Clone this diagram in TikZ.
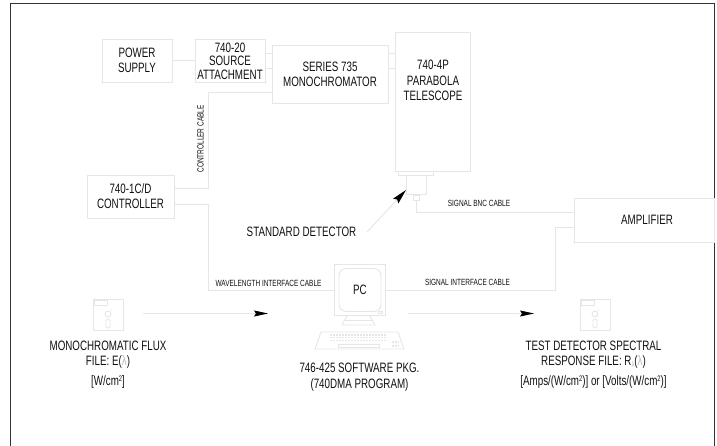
\documentclass[tikz,border=0pt]{standalone}
\usepackage{fontspec}
\setmainfont[FakeStretch=0.72]{Liberation Sans}
\usetikzlibrary{arrows.meta}
\definecolor{ln}{HTML}{E6E6E6}
\definecolor{tx}{HTML}{111111}
\tikzset{
 every node/.style={text=tx,inner sep=0pt,outer sep=0pt},
 bx/.style={draw=ln,line width=.9pt,align=center,font=\fontsize{13.6}{14.5}\selectfont},
 wire/.style={draw=ln,line width=.9pt},
 big/.style={align=center,font=\fontsize{13.6}{14.5}\selectfont},
 small/.style={font=\fontsize{9}{9}\selectfont},
 arr/.style={draw=ln,line width=.9pt,-{Stealth[length=14pt,width=6pt,inset=2pt,color=black]}}
}
\newcommand{\lam}{{\color{ln!80!black}λ}}
\newcommand{\supt}[1]{\raisebox{4.5pt}{\fontsize{8}{8}\selectfont #1}}
\newcommand{\disk}[3]{%
 \node[draw=ln,line width=.9pt,minimum width=30pt,minimum height=31pt] (#1) at (#2,#3) {};
 \draw[wire] (#1.north west) ++(1,1) rectangle ++(13,5);
 \draw[wire] (#2,#3) ++(0,-.5) circle (3);
 \fill[ln] (#2,#3) ++(3.5,-4.5) circle (.6);
 \draw[wire,rounded corners=1.5pt] (#2,#3) ++(-2,4.5) rectangle ++(4,9);
}
\begin{document}
\begin{tikzpicture}[x=1pt,y=-1pt]
\useasboundingbox (0,0) rectangle (717,446);
\fill[white] (0,0) rectangle (717,446);
\draw[draw=black!80,line width=1.3pt] (10.5,446) -- (10.5,3.5) -- (714.5,3.5) -- (714.5,446);

\node[bx,minimum width=70pt,minimum height=43pt] (pw) at (137,60.5) {POWER\\SUPPLY};
\node[bx,minimum width=70pt,minimum height=43pt,font=\fontsize{13.6}{13.6}\selectfont] (sa) at (230,61) {740-20\\SOURCE\\ATTACHMENT};
\node[bx,minimum width=116pt,minimum height=58pt,font=\fontsize{13.6}{15}\selectfont] (mo) at (330,74) {SERIES 735\\MONOCHROMATOR};
\node[bx,minimum width=75pt,minimum height=139pt] (te) at (433,101.5) {};
\node[big,font=\fontsize{13.6}{15.5}\selectfont] (tl) at (433,80.5) {740-4P\\PARABOLA\\TELESCOPE};
\node[draw=ln,line width=.9pt,minimum width=35pt,minimum height=4pt] (fl) at (416,173) {};
\node[draw=ln,line width=.9pt,minimum width=20pt,minimum height=19pt] (de) at (416,184.5) {};
\node[draw=ln,line width=.9pt,minimum width=6pt,minimum height=5pt] (bn) at (416,197.5) {};
\node[bx,minimum width=140pt,minimum height=44pt] (am) at (644,220) {};
\node[big] (aml) at (647,220) {AMPLIFIER};
\node[bx,minimum width=87pt,minimum height=43pt,font=\fontsize{13.6}{15}\selectfont] (co) at (130.5,196.5) {740-1C/D\\CONTROLLER};

% PC
\node[draw=ln,line width=.9pt,minimum width=51pt,minimum height=51.5pt] (pc) at (359.5,290) {};
\node[draw=ln,line width=.9pt,rounded corners=7pt,minimum width=42pt,minimum height=43pt,font=\fontsize{13.6}{14}\selectfont] (sc) at (360,290) {PC};
\node[draw=ln,line width=.7pt,minimum width=4pt,minimum height=2pt] (bt) at (380,312.5) {};
\draw[wire] (347,316) -- (342,325) -- (375,325) -- (370,316) (345,320.5) -- (372,320.5);
\draw[wire] (321,332) -- (315,349) -- (404,349) -- (398,332) -- cycle;
\foreach \r in {0,1,2} \draw[ln,line width=1.3pt,dash pattern=on 2pt off 1pt] (330,335+\r*2.6) -- (387,335+\r*2.6);
\draw[wire] (338,344) rectangle (379,347);
\draw[ln,line width=2pt,dash pattern=on 2pt off 1pt] (392,342) -- (399,342) (392,346) -- (399,346);

% disks
\disk{d1}{108}{314.5}
\disk{d2}{595}{314.5}

% wires
\draw[wire] (pw.east) -- (sa.west |- pw.east);
\draw[wire] (sa.east |- 0,53) -- (mo.west |- 0,53);
\draw[wire] (sa.east |- 0,68) -- (mo.west |- 0,68);
\draw[wire] (mo.east |- 0,53) -- (te.west |- 0,53);
\draw[wire] (mo.east |- 0,68) -- (te.west |- 0,68);
\draw[wire] (co.east |- 0,188.5) -- (208.5,188.5) -- (208.5,92) -- (mo.west |- 0,92);
\draw[wire] (co.east |- 0,204.5) -- (208.5,204.5) -- (208.5,290) -- (pc.west);
\draw[wire] (pc.east) -- (555.5,290) -- (555.5,227) -- (am.west |- 0,227);
\draw[wire] (bn.south) -- (416,212.5) -- (am.west |- 0,212.5);

% arrows
\coordinate (sdfrom) at (367,232);
\draw[arr,-{Stealth[length=15pt,width=7pt,inset=2pt,color=black]}] (sdfrom) -- (de.west |- 0,190);
\coordinate (a1) at (143,313.5);
\coordinate (a2) at (268,313.5);
\coordinate (a3) at (408,313.5);
\coordinate (a4) at (534,313.5);
\draw[arr] (a1) -- (a2);
\draw[arr] (a3) -- (a4);

% labels
\node[small] (lc) at (200.5,139) [rotate=90] {CONTROLLER CABLE};
\node[small] (lb) at (479,203.5) {SIGNAL BNC CABLE};
\node[small] (lw) at (268.5,283) {WAVELENGTH INTERFACE CABLE};
\node[small] (ls) at (467.5,282) {SIGNAL INTERFACE CABLE};
\node[big] (sd) at (301.5,232) {STANDARD DETECTOR};
\node[big,font=\fontsize{13.6}{16}\selectfont] (sw) at (359.5,377.5) {746-425 SOFTWARE PKG.\\(740DMA PROGRAM)};
\node[big] (f1) at (108,354.5) {MONOCHROMATIC FLUX\\FILE: E(\lam)};
\node[big] (f2) at (108,382) {[W/cm\supt{2}]};
\node[big] (t1) at (593.5,354.5) {TEST DETECTOR SPECTRAL\\RESPONSE FILE: R\raisebox{-2.5pt}{\fontsize{8}{8}\selectfont\lam}(\lam)};
\node[big] (t2) at (593.5,382) {[Amps/(W/cm\supt{2})] or [Volts/(W/cm\supt{2})]};
\end{tikzpicture}
\end{document}
